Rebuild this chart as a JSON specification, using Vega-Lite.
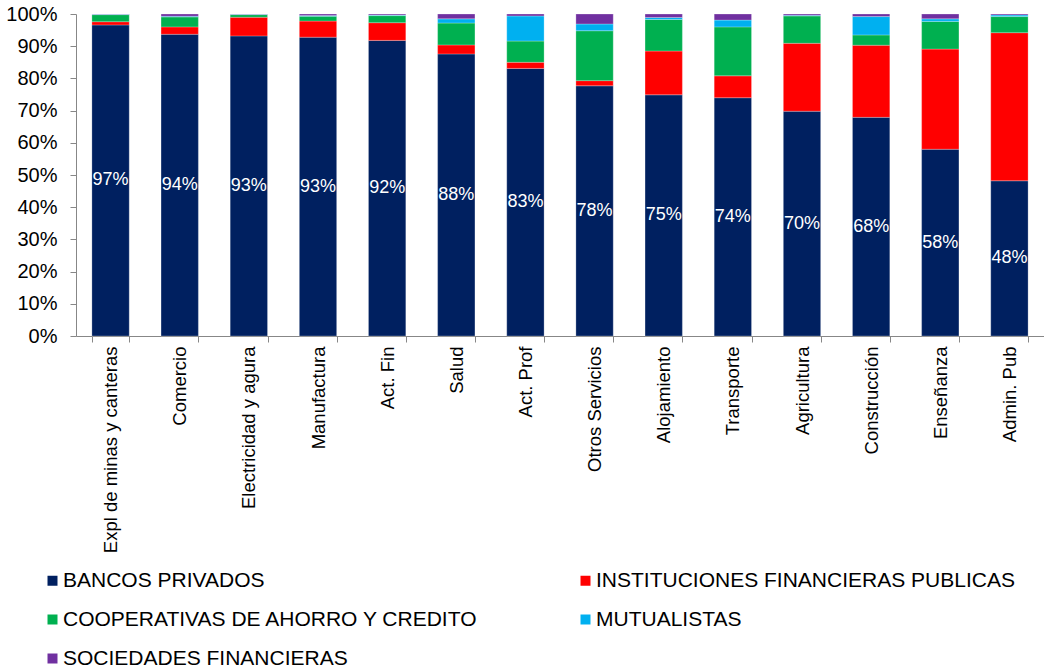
{
  "$schema": "https://vega.github.io/schema/vega-lite/v6.json",
  "width": 968,
  "height": 322,
  "autosize": {"type": "none"},
  "padding": {"left": 76, "top": 14, "right": 0, "bottom": 332},
  "config": {"view": {"stroke": null}, "font": "Liberation Sans"},
  "data": {
    "values": [
      {"sector": "Expl de minas y canteras", "BANCOS PRIVADOS": 96.6, "INSTITUCIONES FINANCIERAS PUBLICAS": 1.0, "COOPERATIVAS DE AHORRO Y CREDITO": 2.2, "MUTUALISTAS": 0.1, "SOCIEDADES FINANCIERAS": 0.1},
      {"sector": "Comercio", "BANCOS PRIVADOS": 93.7, "INSTITUCIONES FINANCIERAS PUBLICAS": 2.3, "COOPERATIVAS DE AHORRO Y CREDITO": 3.1, "MUTUALISTAS": 0.2, "SOCIEDADES FINANCIERAS": 0.7},
      {"sector": "Electricidad y agura", "BANCOS PRIVADOS": 93.2, "INSTITUCIONES FINANCIERAS PUBLICAS": 5.8, "COOPERATIVAS DE AHORRO Y CREDITO": 0.8, "MUTUALISTAS": 0.1, "SOCIEDADES FINANCIERAS": 0.1},
      {"sector": "Manufactura", "BANCOS PRIVADOS": 92.8, "INSTITUCIONES FINANCIERAS PUBLICAS": 5.0, "COOPERATIVAS DE AHORRO Y CREDITO": 1.5, "MUTUALISTAS": 0.2, "SOCIEDADES FINANCIERAS": 0.5},
      {"sector": "Act. Fin", "BANCOS PRIVADOS": 91.8, "INSTITUCIONES FINANCIERAS PUBLICAS": 5.5, "COOPERATIVAS DE AHORRO Y CREDITO": 2.2, "MUTUALISTAS": 0.2, "SOCIEDADES FINANCIERAS": 0.3},
      {"sector": "Salud", "BANCOS PRIVADOS": 87.6, "INSTITUCIONES FINANCIERAS PUBLICAS": 2.8, "COOPERATIVAS DE AHORRO Y CREDITO": 6.8, "MUTUALISTAS": 1.3, "SOCIEDADES FINANCIERAS": 1.5},
      {"sector": "Act. Prof", "BANCOS PRIVADOS": 83.1, "INSTITUCIONES FINANCIERAS PUBLICAS": 1.9, "COOPERATIVAS DE AHORRO Y CREDITO": 6.6, "MUTUALISTAS": 7.8, "SOCIEDADES FINANCIERAS": 0.6},
      {"sector": "Otros Servicios", "BANCOS PRIVADOS": 77.7, "INSTITUCIONES FINANCIERAS PUBLICAS": 1.6, "COOPERATIVAS DE AHORRO Y CREDITO": 15.5, "MUTUALISTAS": 2.1, "SOCIEDADES FINANCIERAS": 3.1},
      {"sector": "Alojamiento", "BANCOS PRIVADOS": 74.9, "INSTITUCIONES FINANCIERAS PUBLICAS": 13.6, "COOPERATIVAS DE AHORRO Y CREDITO": 9.8, "MUTUALISTAS": 0.6, "SOCIEDADES FINANCIERAS": 1.1},
      {"sector": "Transporte", "BANCOS PRIVADOS": 74.0, "INSTITUCIONES FINANCIERAS PUBLICAS": 6.8, "COOPERATIVAS DE AHORRO Y CREDITO": 15.2, "MUTUALISTAS": 2.1, "SOCIEDADES FINANCIERAS": 1.9},
      {"sector": "Agricultura", "BANCOS PRIVADOS": 69.8, "INSTITUCIONES FINANCIERAS PUBLICAS": 21.1, "COOPERATIVAS DE AHORRO Y CREDITO": 8.5, "MUTUALISTAS": 0.2, "SOCIEDADES FINANCIERAS": 0.4},
      {"sector": "Construcción", "BANCOS PRIVADOS": 67.9, "INSTITUCIONES FINANCIERAS PUBLICAS": 22.4, "COOPERATIVAS DE AHORRO Y CREDITO": 3.2, "MUTUALISTAS": 5.7, "SOCIEDADES FINANCIERAS": 0.8},
      {"sector": "Enseñanza", "BANCOS PRIVADOS": 58.0, "INSTITUCIONES FINANCIERAS PUBLICAS": 31.1, "COOPERATIVAS DE AHORRO Y CREDITO": 8.6, "MUTUALISTAS": 0.8, "SOCIEDADES FINANCIERAS": 1.5},
      {"sector": "Admin. Pub", "BANCOS PRIVADOS": 48.2, "INSTITUCIONES FINANCIERAS PUBLICAS": 46.0, "COOPERATIVAS DE AHORRO Y CREDITO": 5.0, "MUTUALISTAS": 0.5, "SOCIEDADES FINANCIERAS": 0.3}
    ]
  },
  "layer": [
    {
      "transform": [
        {"fold": ["BANCOS PRIVADOS", "INSTITUCIONES FINANCIERAS PUBLICAS", "COOPERATIVAS DE AHORRO Y CREDITO", "MUTUALISTAS", "SOCIEDADES FINANCIERAS"], "as": ["tipo", "pct"]},
        {"calculate": "indexof(['BANCOS PRIVADOS', 'INSTITUCIONES FINANCIERAS PUBLICAS', 'COOPERATIVAS DE AHORRO Y CREDITO', 'MUTUALISTAS', 'SOCIEDADES FINANCIERAS'], datum.tipo)", "as": "ord"}
      ],
      "mark": {"type": "bar", "stroke": "white", "strokeWidth": 0.5, "strokeOpacity": 0.5},
      "encoding": {
        "x": {
          "field": "sector", "type": "nominal", "sort": null,
          "scale": {"paddingInner": 0.46, "paddingOuter": 0.23},
          "axis": {"title": null, "labelAngle": -90, "labelFontSize": 18.5, "labelColor": "black", "labelPadding": 4, "tickBand": "extent", "tickSize": 6, "tickColor": "#878787", "domainColor": "#878787", "labelLimit": 400}
        },
        "y": {
          "field": "pct", "type": "quantitative", "stack": "zero",
          "scale": {"domain": [0, 100], "nice": false},
          "axis": {"title": null, "values": [0, 10, 20, 30, 40, 50, 60, 70, 80, 90, 100], "labelOverlap": false, "labelExpr": "datum.value + '%'", "labelFontSize": 20, "labelColor": "black", "labelPadding": 13, "tickSize": 6, "tickColor": "#878787", "domainColor": "#878787", "grid": false}
        },
        "color": {
          "field": "tipo", "type": "nominal",
          "scale": {"domain": ["BANCOS PRIVADOS", "INSTITUCIONES FINANCIERAS PUBLICAS", "COOPERATIVAS DE AHORRO Y CREDITO", "MUTUALISTAS", "SOCIEDADES FINANCIERAS"], "range": ["#002060", "#FF0000", "#00B050", "#00B0F0", "#7030A0"]},
          "legend": {"orient": "none", "legendX": -34, "legendY": 556, "direction": "horizontal", "columns": 2, "title": null, "symbolType": "square", "symbolSize": 100, "symbolStrokeWidth": 0, "labelFontSize": 21, "labelColor": "black", "labelOffset": 0, "columnPadding": 96, "rowPadding": 17, "labelLimit": 600, "padding": 0}
        },
        "order": {"field": "ord", "type": "quantitative"}
      }
    },
    {
      "transform": [
        {"calculate": "datum['BANCOS PRIVADOS'] / 2", "as": "mid"},
        {"calculate": "format(datum['BANCOS PRIVADOS'], '.0f') + '%'", "as": "lbl"}
      ],
      "mark": {"type": "text", "color": "white", "fontSize": 18, "align": "center", "baseline": "middle"},
      "encoding": {
        "x": {"field": "sector", "type": "nominal", "sort": null},
        "y": {
          "field": "mid", "type": "quantitative",
          "scale": {"domain": [0, 100], "nice": false},
          "axis": {"title": null, "values": [0, 10, 20, 30, 40, 50, 60, 70, 80, 90, 100], "labelOverlap": false, "labelExpr": "datum.value + '%'", "labelFontSize": 20, "labelColor": "black", "labelPadding": 13, "tickSize": 6, "tickColor": "#878787", "domainColor": "#878787", "grid": false}
        },
        "text": {"field": "lbl", "type": "nominal"}
      }
    }
  ]
}
